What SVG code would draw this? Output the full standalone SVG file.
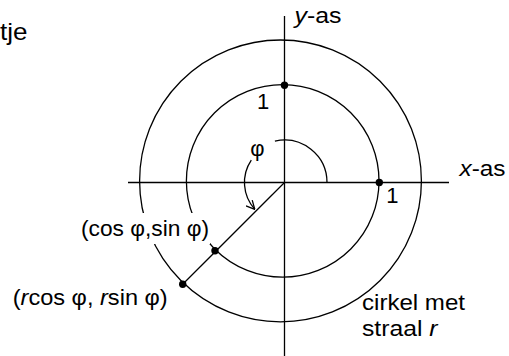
<svg xmlns="http://www.w3.org/2000/svg" width="509" height="356" viewBox="0 0 509 356">
<style>
.ln{fill:none;stroke:#000;stroke-width:1.3}
.dot{fill:#000}
.t{font-family:"Liberation Sans",Arial,sans-serif;font-size:22px;fill:#000}
.i{font-style:italic}
</style>
<defs>
<marker id="arr" viewBox="0 0 10 10" refX="9.5" refY="5" markerWidth="10" markerHeight="10" markerUnits="userSpaceOnUse" orient="auto">
<path d="M1,0.8 L9.5,5 L1,9.2" fill="none" stroke="#000" stroke-width="1.3"/>
</marker>
</defs>
<rect width="509" height="356" fill="#fff"/>
<g id="circles">
<circle id="outer-circle" class="ln" cx="280.5" cy="180.9" r="140.9"/>
<circle id="unit-circle" class="ln" cx="282.7" cy="180.9" r="96.3"/>
</g>
<g id="axes">
<line id="x-axis" class="ln" x1="128" y1="182.5" x2="449" y2="182.5"/>
<line id="y-axis" class="ln" x1="284.5" y1="16" x2="284.5" y2="356"/>
</g>
<g id="connectors">
<line id="radius" class="ln" x1="284.5" y1="182.5" x2="182.7" y2="284.3"/>
<path id="angle-arc" class="ln" d="M274.9,141.1 A42.5,42.5 0 0 1 327,182.5"/>
<path id="angle-arrow" class="ln" d="M251.3,160.1 A40,40 0 0 0 254.8,209.3" marker-end="url(#arr)"/>
</g>
<g id="points">
<circle id="p-y1" class="dot" cx="284.5" cy="85.3" r="3.7"/>
<circle id="p-x1" class="dot" cx="379.3" cy="182.5" r="3.7"/>
<circle id="p-unit" class="dot" cx="215" cy="250.8" r="3.7"/>
<circle id="p-r" class="dot" cx="182.7" cy="284.3" r="3.7"/>
</g>
<g id="labels">
<text class="t" x="0" y="39.5" font-size="24" style="font-size:24px" textLength="27.5" lengthAdjust="spacingAndGlyphs">tje</text>
<text class="t" x="294.5" y="22.7" textLength="47" lengthAdjust="spacingAndGlyphs"><tspan class="i">y</tspan>-as</text>
<text class="t" x="459.5" y="175.7" textLength="46" lengthAdjust="spacingAndGlyphs"><tspan class="i">x</tspan>-as</text>
<text class="t" x="263" y="108.7" text-anchor="middle">1</text>
<text class="t" x="392.3" y="202.7" text-anchor="middle">1</text>
<text class="t" x="257.5" y="156" text-anchor="middle">φ</text>
<g id="label-unit-point">
<rect x="78" y="213" width="132" height="31" fill="#fff"/>
<text class="t" x="81" y="236" textLength="128" lengthAdjust="spacingAndGlyphs">(cos φ,sin φ)</text>
</g>
<text class="t" x="12.7" y="305" textLength="155" lengthAdjust="spacingAndGlyphs">(<tspan class="i">r</tspan>cos φ, <tspan class="i">r</tspan>sin φ)</text>
<text class="t" x="362" y="309.5" textLength="103" lengthAdjust="spacingAndGlyphs">cirkel met</text>
<text class="t" x="362" y="336" textLength="75.5" lengthAdjust="spacingAndGlyphs">straal <tspan class="i">r</tspan></text>
</g>
</svg>
